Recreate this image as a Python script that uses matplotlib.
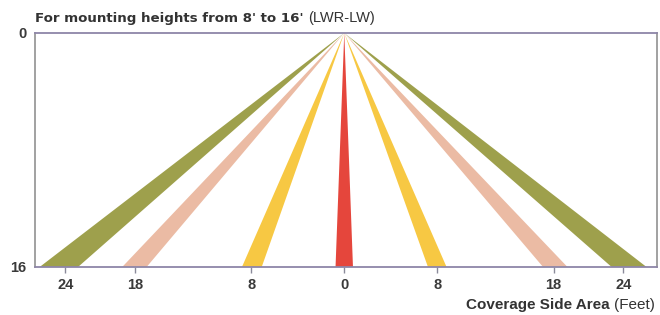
import matplotlib.pyplot as plt

plt.rcParams['font.family'] = ['Liberation Sans', 'DejaVu Sans']

# beam footprints at the floor (feet from centre), one triangle per beam
depth = 16
beam_left = [-26.2, -19.1, -8.8, -0.75, 7.2, 17.1, 23.0]
beam_right = [-22.9, -17.0, -7.1, 0.75, 8.8, 19.2, 26.0]
beam_colors = ['#9ea04c', '#ebbba4', '#f7c843', '#e5463c',
               '#f7c843', '#ebbba4', '#9ea04c']

xticks = [-24, -18, -8, 0, 8, 18, 24]
xtick_labels = ['24', '18', '8', '0', '8', '18', '24']
yticks = [0, 16]

fig = plt.figure(figsize=(6.6, 3.15), dpi=100)
ax = fig.add_axes([35 / 660, 48 / 315, 622 / 660, 234 / 315])

for l, r, c in zip(beam_left, beam_right, beam_colors):
    ax.fill([0, l, r], [0, depth, depth], color=c, lw=0)

ax.set_xlim(-26.6, 26.9)
ax.set_ylim(depth, 0)

ax.set_xticks(xticks)
ax.set_xticklabels(xtick_labels)
ax.set_yticks(yticks)
ax.tick_params(axis='x', length=4, width=1, color='#8a8a9a', pad=4,
               labelsize=10.5, labelcolor='#3a3a3a')
ax.tick_params(axis='y', length=0, pad=6, labelsize=10.5, labelcolor='#3a3a3a')
for lab in ax.get_xticklabels() + ax.get_yticklabels():
    lab.set_fontweight('bold')

for s in ['top', 'bottom']:
    ax.spines[s].set_color('#8e86a8')
    ax.spines[s].set_linewidth(1.3)
for s in ['left', 'right']:
    ax.spines[s].set_color('#9a9a9a')
    ax.spines[s].set_linewidth(1.3)

# title: bold part + normal part
fig.canvas.draw()
r = fig.canvas.get_renderer()
t1 = fig.text(35 / 660, 1 - 22 / 315, "For mounting heights from 8' to 16'",
              fontsize=9.6, fontweight='bold', family='DejaVu Sans',
              color='#333333', va='baseline')
bb = t1.get_window_extent(r)
fig.text(bb.x1 / 660 + 5 / 660, 1 - 22 / 315, "(LWR-LW)", fontsize=10.5,
         color='#333333', va='baseline')

# x label: bold part + normal part, right aligned
t3 = fig.text(655 / 660, 1 - 309 / 315, "(Feet)", fontsize=11,
              color='#333333', va='baseline', ha='right')
bb = t3.get_window_extent(r)
fig.text(bb.x0 / 660 - 5 / 660, 1 - 309 / 315, "Coverage Side Area",
         fontsize=11, fontweight='bold', color='#333333', va='baseline',
         ha='right')

fig.savefig('out.png', dpi=100)
